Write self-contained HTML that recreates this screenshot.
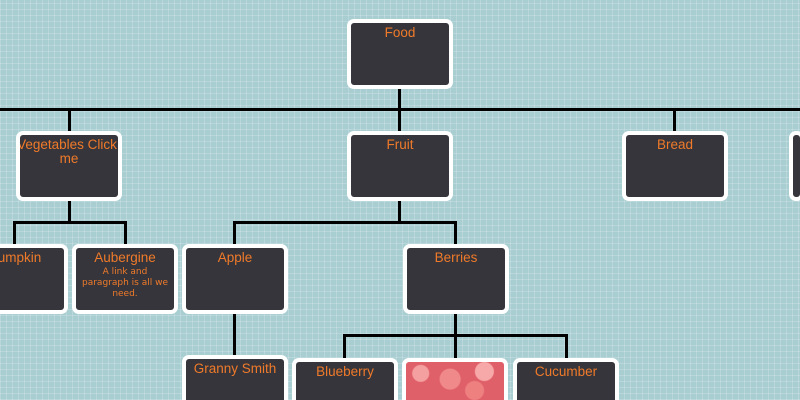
<!DOCTYPE html>
<html style="overflow:hidden;width:800px;height:400px"><head><style>
body{margin:0;width:800px;height:400px;overflow:hidden;position:relative;
background-color:#a9ced2;
background-image:repeating-linear-gradient(0deg,rgba(255,255,255,.18) 0 1px,transparent 1px 6px),repeating-linear-gradient(90deg,rgba(255,255,255,.18) 0 1px,transparent 1px 6px);
font-family:"DejaVu Sans","Liberation Sans",sans-serif;}
.n{position:absolute;width:98px;background:#35353b;border:4px solid #fff;border-radius:7px;color:#f07a2a;font-family:"Liberation Sans",sans-serif;font-size:13.5px;text-align:center;line-height:14px;padding-top:3px;box-sizing:content-box;height:59px;overflow:hidden;white-space:nowrap}
.b{border-bottom:0;border-radius:7px 7px 0 0}
.n p{margin:2px 4px 0;font-family:"DejaVu Sans",sans-serif;font-size:9px;line-height:11px;white-space:normal}
.h,.v{position:absolute;background:#000}
.h{height:3px}.v{width:3px}
</style></head><body>
<div class="h" style="left:0;top:108px;width:800px"></div>
<div class="v" style="left:398px;top:88px;height:44px"></div>
<div class="v" style="left:68px;top:108px;height:24px"></div>
<div class="v" style="left:673px;top:108px;height:24px"></div>
<div class="v" style="left:68px;top:200px;height:24px"></div>
<div class="h" style="left:13px;top:221px;width:114px"></div>
<div class="v" style="left:13px;top:221px;height:24px"></div>
<div class="v" style="left:124px;top:221px;height:24px"></div>
<div class="v" style="left:398px;top:200px;height:24px"></div>
<div class="h" style="left:233px;top:221px;width:224px"></div>
<div class="v" style="left:233px;top:221px;height:24px"></div>
<div class="v" style="left:454px;top:221px;height:24px"></div>
<div class="v" style="left:233px;top:313px;height:44px"></div>
<div class="v" style="left:454px;top:313px;height:24px"></div>
<div class="h" style="left:343px;top:334px;width:225px"></div>
<div class="v" style="left:343px;top:334px;height:25px"></div>
<div class="v" style="left:454px;top:334px;height:25px"></div>
<div class="v" style="left:565px;top:334px;height:25px"></div>

<div class="n" style="left:347px;top:19px">Food</div>
<div class="n" style="left:16px;top:131px;text-indent:-4px">Vegetables Click<br>me</div>
<div class="n" style="left:347px;top:131px">Fruit</div>
<div class="n" style="left:622px;top:131px">Bread</div>
<div class="n" style="left:789px;top:131px;width:7px"></div>
<div class="n" style="left:-38px;top:244px">Pumpkin</div>
<div class="n" style="left:72px;top:244px">Aubergine<p>A link and paragraph is all we need.</p></div>
<div class="n" style="left:182px;top:244px">Apple</div>
<div class="n" style="left:403px;top:244px">Berries</div>
<div class="n b" style="left:182px;top:355px;height:38px">Granny Smith</div>
<div class="n b" style="left:292px;top:358px;height:35px">Blueberry</div>
<div class="n b" style="left:402px;top:358px;height:35px;background:radial-gradient(circle at 15% 30%,#f4a0a0 0 8px,transparent 9px),radial-gradient(circle at 45% 45%,#f08a8a 0 10px,transparent 11px),radial-gradient(circle at 80% 25%,#f7a8a8 0 9px,transparent 10px),radial-gradient(circle at 70% 75%,#ee8080 0 9px,transparent 10px),#e0606a"></div>
<div class="n b" style="left:513px;top:358px;height:35px">Cucumber</div>
</body></html>
